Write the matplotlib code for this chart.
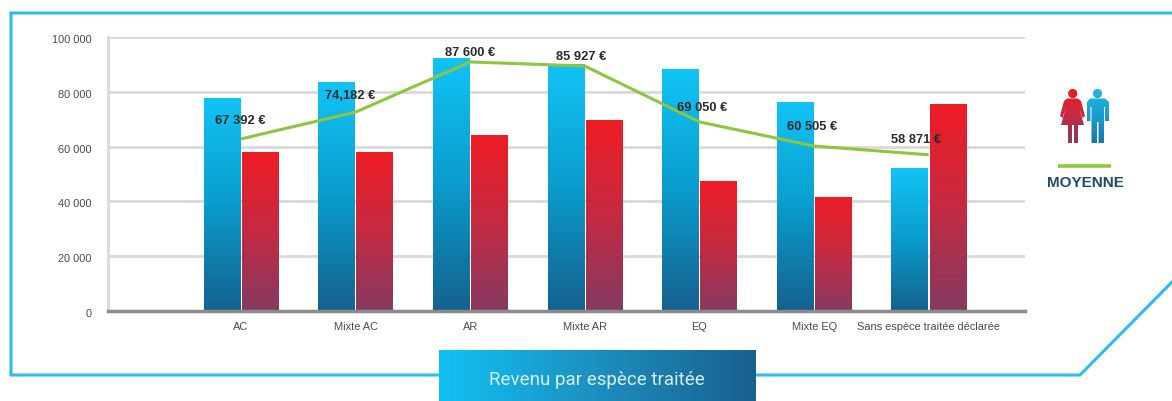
import matplotlib.pyplot as plt
import matplotlib.patches as mpatches
from matplotlib.colors import LinearSegmentedColormap
from matplotlib.path import Path
from matplotlib.transforms import ScaledTranslation
import numpy as np

plt.rcParams['font.family'] = ['Liberation Sans', 'DejaVu Sans']

# data
categories = ['AC', 'Mixte AC', 'AR', 'Mixte AR', 'EQ', 'Mixte EQ', 'Sans espèce traitée déclarée']
hommes = [77700, 83500, 92300, 89800, 88300, 76000, 52000]
femmes = [58000, 58000, 64200, 69700, 47400, 41600, 75500]
moyenne = [62800, 72600, 90900, 89400, 69000, 60200, 57000]
moyenne_labels = ['67 392 €', '74,182 €', '87 600 €', '85 927 €', '69 050 €', '60 505 €', '58 871 €']
yticks = [0, 20000, 40000, 60000, 80000, 100000]
ytick_labels = ['0', '20 000', '40 000', '60 000', '80 000', '100 000']

W, H = 1172, 401
blue_cm = LinearSegmentedColormap.from_list('b', ['#12c3f6', '#0a9ccc', '#15618f'])
red_cm = LinearSegmentedColormap.from_list('r', ['#ee1c25', '#c42a42', '#863a62'])
man_cm = LinearSegmentedColormap.from_list('m', ['#25b4e6', '#1a9ccd', '#1878a6'])
banner_cm = LinearSegmentedColormap.from_list('t', ['#12c0f4', '#1d8fbe', '#18608f'])
grad = np.linspace(0, 1, 128).reshape(-1, 1)

fig = plt.figure(figsize=(W / 100, H / 100), dpi=100, facecolor='white')

# pixel overlay for frame, banner, icons
bg = fig.add_axes([0, 0, 1, 1])
bg.set_xlim(0, W)
bg.set_ylim(H, 0)
bg.axis('off')
bg.plot([1172, 11, 11, 1080, 1172], [13, 13, 375, 375, 282], color='#2cbcf0', lw=2.2, solid_joinstyle='miter')

banner = bg.imshow(grad.T, cmap=banner_cm, extent=[439, 756, 401, 350], aspect='auto', zorder=3)
bg.text(597, 380, 'Revenu par espèce traitée', color='#d4eff8', fontsize=13.5, ha='center', va='center', zorder=4,
        family=['Roboto', 'DejaVu Sans'])


def icon(parts, cmap, lo, hi):
    verts, codes = [], []
    for p in parts:
        verts += p + [p[0]]
        codes += [Path.MOVETO] + [Path.LINETO] * (len(p) - 1) + [Path.CLOSEPOLY]
    xs = [v[0] for v in verts]
    clip = mpatches.PathPatch(Path(verts, codes), transform=bg.transData, fc='none', ec='none')
    bg.add_patch(clip)
    im = bg.imshow(grad, cmap=cmap, extent=[min(xs), max(xs), hi, lo], aspect='auto', zorder=3)
    im.set_clip_path(clip)


def circle(cx, cy, r):
    return [(cx + r * np.cos(t), cy + r * np.sin(t)) for t in np.linspace(0, 2 * np.pi, 30)[:-1]]


icon([circle(1072.7, 93.5, 4.6),
      [(1067, 98.5), (1078, 98.5), (1081, 101), (1085, 116), (1082.5, 118), (1079, 107), (1084, 125), (1078, 125),
       (1078, 143), (1074, 143), (1074, 125), (1072, 125), (1072, 143), (1068, 143), (1068, 125), (1061, 125),
       (1066, 107), (1062.5, 118), (1060, 116), (1064, 101)]], red_cm, 89, 143)
icon([circle(1097.5, 93.5, 4.6),
      [(1090, 98.5), (1105, 98.5), (1109, 102), (1109, 121), (1105, 121), (1105, 107), (1104, 107), (1104, 143),
       (1098.5, 143), (1098.5, 122), (1097, 122), (1097, 143), (1091.5, 143), (1091.5, 107), (1090.5, 107), (1090.5, 121),
       (1087, 121), (1087, 102)]], man_cm, 89, 143)

bg.plot([1058, 1111], [166, 166], color='#8cc63f', lw=2.6, solid_capstyle='butt')
bg.text(1085, 183, 'MOYENNE', color='#1f4a6e', fontsize=11, fontweight='bold', ha='center', va='center')
bg.set_xlim(0, W)
bg.set_ylim(H, 0)

# chart
ax = fig.add_axes([108 / W, (H - 311) / H, 917 / W, 274 / H])
ax.patch.set_alpha(0)

x = np.arange(len(categories))
w = 0.318
bars1 = ax.bar(x - 0.166, hommes, w, color='none', zorder=3)
bars2 = ax.bar(x + 0.166, femmes, w, color='none', zorder=3)
for bars, cm in ((bars1, blue_cm), (bars2, red_cm)):
    for b in bars:
        ax.imshow(grad, cmap=cm, aspect='auto', zorder=3,
                  extent=[b.get_x(), b.get_x() + b.get_width(), 0, b.get_height()])
ax.set_xlim(-1.16, 6.84)
ax.set_ylim(0, 100000)

ax.plot(x, moyenne, color='#8cc63f', lw=2.2, zorder=4, solid_capstyle='butt')

# label offsets in pixels from the line
offsets = [(-1, 18), (-5, 16), (0, 9), (-4, 9), (3, 14), (-2, 19), (-13, 15)]
for i, lab in enumerate(moyenne_labels):
    ax.annotate(lab, (x[i], moyenne[i]), xytext=offsets[i], textcoords='offset pixels', ha='center', va='center',
                fontsize=9.3, fontweight='bold', color='#2a2a2a', zorder=5, annotation_clip=False)

ax.set_yticks(yticks)
ax.set_yticklabels(ytick_labels)
ax.set_xticks(x)
ax.set_xticklabels(categories)
ax.tick_params(axis='both', length=0, labelsize=7.9, labelcolor='#4a4a4a')
ax.tick_params(axis='y', pad=12)
ax.tick_params(axis='x', pad=8)
ax.grid(axis='y', color='#d9d9d9', lw=2)
ax.set_axisbelow(True)
for lab in ax.get_yticklabels():
    lab.set_transform(lab.get_transform() + ScaledTranslation(0, -2 / 100, fig.dpi_scale_trans))
for s in ('top', 'right'):
    ax.spines[s].set_visible(False)
ax.spines['left'].set_color('#d9d9d9')
ax.spines['left'].set_linewidth(2)
ax.spines['bottom'].set_color('#8c8c8c')
ax.spines['bottom'].set_linewidth(2.5)
ax.spines['bottom'].set_zorder(6)

fig.savefig('out.png', dpi=100)
